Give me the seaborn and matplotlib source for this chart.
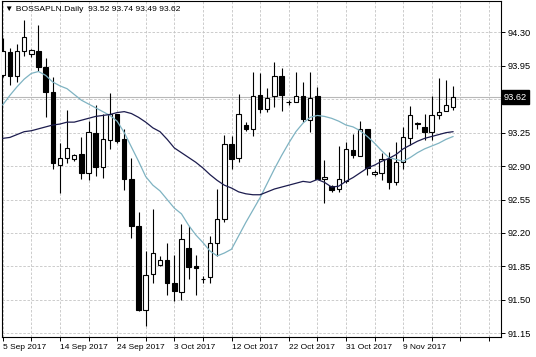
import matplotlib
matplotlib.use("Agg")
import matplotlib.pyplot as plt
import matplotlib.transforms as mtransforms
import seaborn as sns
import numpy as np

# ---------------- data ----------------
opens = [93.85, 94.09, 93.84, 94.10, 94.07, 94.10, 93.94, 93.68, 92.91, 92.98,
         92.97, 93.03, 92.83, 93.25, 92.89, 93.17, 93.44, 93.18, 92.76, 92.27,
         91.39, 91.77, 91.86, 91.92, 91.68, 91.58, 92.04, 91.85, 91.72, 91.74,
         92.09, 92.35, 93.13, 92.98, 93.33, 93.29, 93.64, 93.50, 93.63, 93.84,
         93.57, 93.57, 93.63, 93.38, 93.63, 92.77, 92.69, 92.66, 92.74, 93.07,
         93.01, 93.29, 92.82, 92.83, 92.97, 92.73, 92.94, 93.19, 93.35, 93.31,
         93.26, 93.43, 93.48, 93.52]
highs = [94.24, 94.14, 94.18, 94.43, 94.13, 94.38, 94.03, 93.83, 93.14, 93.49,
         93.03, 93.20, 93.37, 93.54, 93.44, 93.67, 93.45, 93.29, 92.98, 92.42,
         92.01, 92.45, 91.96, 92.09, 91.97, 92.29, 92.27, 91.97, 91.75, 92.17,
         92.66, 93.23, 93.22, 93.65, 93.36, 93.88, 93.87, 93.72, 93.99, 93.93,
         93.59, 93.88, 93.78, 93.89, 93.73, 92.96, 92.70, 93.11, 93.15, 93.24,
         93.37, 93.29, 92.86, 93.04, 93.05, 93.15, 93.31, 93.53, 93.36, 93.45,
         93.63, 93.82, 93.80, 93.74]
lows = [93.83, 93.75, 93.78, 94.05, 94.04, 93.90, 93.41, 92.87, 92.62, 92.93,
        92.95, 92.76, 92.75, 92.80, 92.78, 93.08, 93.14, 92.65, 92.15, 91.38,
        91.23, 91.68, 91.85, 91.55, 91.49, 91.50, 91.72, 91.55, 91.68, 91.68,
        91.96, 92.31, 92.87, 92.94, 93.27, 93.22, 93.46, 93.47, 93.52, 93.48,
        93.54, 93.57, 93.36, 93.26, 92.77, 92.51, 92.63, 92.63, 92.72, 92.98,
        93.01, 92.81, 92.80, 92.75, 92.66, 92.70, 92.87, 93.12, 93.29, 93.17,
        93.17, 93.39, 93.48, 93.49]
closes = [94.10, 93.84, 94.10, 94.25, 94.12, 93.94, 93.68, 92.93, 92.98, 93.09,
          93.02, 92.83, 93.26, 92.89, 93.18, 93.44, 93.16, 92.76, 92.27, 91.39,
          91.76, 91.99, 91.92, 91.68, 91.59, 92.14, 91.84, 91.83, 91.72, 92.09,
          92.35, 93.13, 92.97, 93.45, 93.29, 93.63, 93.50, 93.61, 93.84, 93.64,
          93.57, 93.63, 93.39, 93.61, 92.77, 92.79, 92.65, 92.76, 93.08, 93.02,
          93.29, 92.88, 92.84, 92.97, 92.73, 92.94, 93.20, 93.43, 93.34, 93.26,
          93.43, 93.47, 93.54, 93.62]
fast_ma = [93.54, 93.64, 93.73, 93.81, 93.87, 93.89, 93.85, 93.78, 93.74, 93.71,
           93.65, 93.59, 93.55, 93.51, 93.47, 93.43, 93.37, 93.25, 93.10, 92.95,
           92.79, 92.70, 92.64, 92.55, 92.46, 92.40, 92.28, 92.18, 92.10, 92.01,
           91.96, 91.99, 92.03, 92.17, 92.31, 92.44, 92.57, 92.72, 92.87, 93.01,
           93.14, 93.26, 93.35, 93.41, 93.43, 93.42, 93.40, 93.37, 93.33, 93.31,
           93.27, 93.21, 93.14, 93.06, 92.99, 92.97, 92.95, 92.99, 93.04, 93.08,
           93.11, 93.14, 93.18, 93.21]
slow_ma = [93.19, 93.20, 93.23, 93.26, 93.27, 93.29, 93.31, 93.33, 93.34, 93.36,
           93.36, 93.38, 93.40, 93.42, 93.43, 93.44, 93.46, 93.47, 93.45, 93.41,
           93.36, 93.30, 93.26, 93.18, 93.09, 93.04, 92.99, 92.94, 92.88, 92.81,
           92.75, 92.70, 92.67, 92.63, 92.61, 92.60, 92.60, 92.63, 92.66, 92.68,
           92.70, 92.72, 92.74, 92.73, 92.76, 92.73, 92.68, 92.69, 92.74, 92.78,
           92.83, 92.88, 92.91, 92.95, 92.98, 93.02, 93.08, 93.12, 93.16, 93.19,
           93.21, 93.23, 93.25, 93.26]
date_labels = ["5 Sep 2017", "14 Sep 2017", "24 Sep 2017", "3 Oct 2017",
               "12 Oct 2017", "22 Oct 2017", "31 Oct 2017", "9 Nov 2017"]
price_ticks = [94.30, 93.95, 93.60, 93.25, 92.90, 92.55, 92.20, 91.85, 91.50, 91.15]
last_price = 93.62
title = "BOSSAPLN.Daily"

# ---------------- style ----------------
sns.set_style("white")
plt.rcParams["font.family"] = ["Liberation Sans", "DejaVu Sans"]

fig = plt.figure(figsize=(5.36, 3.57), dpi=100)
ax = fig.add_axes([2 / 536, 20 / 357, 499 / 536, 336 / 357])

o = np.array(opens)
c = np.array(closes)
h = np.array(highs)
l = np.array(lows)
idx = np.arange(len(o))

# grid
grid_kw = dict(color="#c4c4c4", linestyle=(0, (3, 2)), linewidth=0.6, zorder=0)
ax.set_xticks(np.arange(0, 70, 4))
xt_labels = []
for k in range(len(np.arange(0, 70, 4))):
    if k % 2 == 0 and k // 2 < len(date_labels):
        xt_labels.append(date_labels[k // 2])
    else:
        xt_labels.append("")
ax.set_xticklabels(xt_labels, ha="left", fontsize=6.0)
ax.set_yticks(price_ticks)
ax.set_yticklabels(["" if abs(p - 93.60) < 1e-6 else f"{p:.2f}" for p in price_ticks],
                   fontsize=6.7)
ax.grid(True, **grid_kw)
ax.set_axisbelow(True)

# bid line
ax.axhline(last_price, color="#b8b8b8", linewidth=0.8, zorder=1)

# candles
faces = ["white" if cc >= oo else "black" for oo, cc in zip(o, c)]
ax.vlines(idx, l, h, color="black", linewidth=0.8, zorder=2)
ax.bar(idx, np.abs(c - o), bottom=np.minimum(o, c), width=0.62,
       color=faces, edgecolor="black", linewidth=0.8, zorder=3)

# moving averages
sns.lineplot(x=idx, y=fast_ma, ax=ax, color="#7fb3c2", linewidth=0.9, zorder=4)
sns.lineplot(x=idx, y=slow_ma, ax=ax, color="#1c1c4e", linewidth=0.9, zorder=4)

ax.set_xlim(-0.1, 69.69)
ax.set_ylim(91.111, 94.628)

# axes look
for s in ax.spines.values():
    s.set_color("black")
    s.set_linewidth(0.8)
ax.yaxis.tick_right()
ax.tick_params(axis="y", which="both", right=True, left=False, length=3,
               width=0.7, pad=1.5, colors="black")
ax.tick_params(axis="x", which="both", bottom=True, length=3, width=0.7,
               pad=2, colors="black")
ax.set_xlabel("")
ax.set_ylabel("")

# title text
ax.text(0.006, 0.975, "\u25bc " + title + "  " +
        " ".join(f"{v:.2f}" for v in (opens[-1], highs[-1], lows[-1], closes[-1])),
        transform=ax.transAxes, ha="left", va="center", fontsize=6.1,
        color="black", family=["Liberation Sans", "DejaVu Sans"])

# last price label box
trans = mtransforms.blended_transform_factory(ax.transAxes, ax.transData)
ax.text(1.0, last_price, f"{last_price:.2f}", transform=trans,
        ha="left", va="center", fontsize=6.7, color="white",
        bbox=dict(boxstyle="square,pad=0.25", facecolor="black", edgecolor="black"),
        zorder=6, clip_on=False)
# shift box slightly right of the axis
ax.texts[-1].set_position((1.0 + 3 / 499, last_price))

fig.savefig("out.png", dpi=100)
